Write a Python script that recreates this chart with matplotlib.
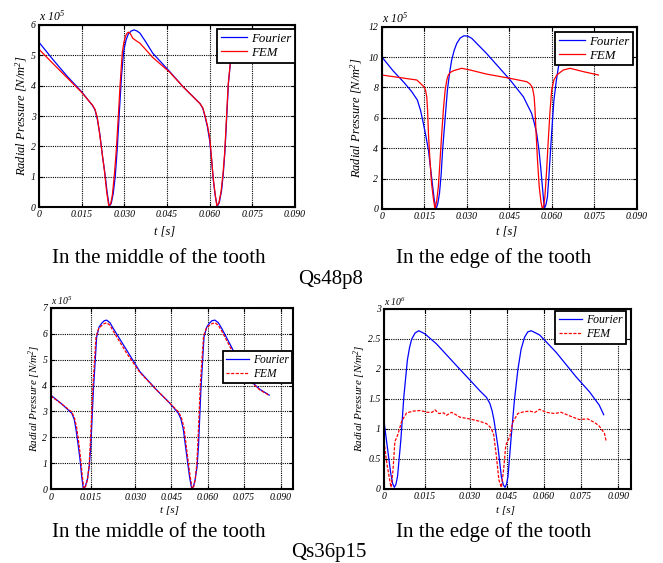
import numpy as np
import matplotlib
matplotlib.use('Agg')
import matplotlib.pyplot as plt

plt.rcParams.update({
    'font.family': 'Liberation Serif',
    'mathtext.fontset': 'custom',
    'mathtext.rm': 'Liberation Serif:italic',
    'mathtext.it': 'Liberation Serif:italic',
    'mathtext.default': 'it',
})

# ---- Qs48p8, middle of the tooth (x 10^5 N/m^2) ----
t_mid48_four = [0, 0.005, 0.010, 0.015, 0.0175, 0.0188, 0.0197, 0.0205, 0.0214, 0.0223, 0.0232,
                0.0240, 0.0247, 0.0254, 0.0261, 0.0268, 0.0275, 0.0283, 0.029, 0.0295, 0.0299,
                0.0306, 0.0314, 0.0324, 0.0334, 0.0345, 0.0355, 0.0375, 0.040, 0.046, 0.0507,
                0.0566, 0.0576, 0.0584, 0.0592, 0.060, 0.0607, 0.0613, 0.0620, 0.0627, 0.0634,
                0.0642, 0.0648, 0.0654, 0.0660, 0.0666, 0.0674, 0.069, 0.071]
p_mid48_four = [5.43, 4.85, 4.3, 3.8, 3.5, 3.35, 3.2, 2.9, 2.4, 1.7, 1.1,
                0.45, 0.02, 0.12, 0.44, 1.0, 1.9, 3.2, 4.3, 4.85, 5.2,
                5.5, 5.7, 5.8, 5.84, 5.8, 5.73, 5.45, 5.07, 4.46, 3.96,
                3.41, 3.25, 2.97, 2.65, 2.2, 1.55, 0.88, 0.35, 0.02, 0.15,
                0.55, 1.1, 1.87, 2.95, 4.07, 4.85, 5.5, 5.8]
t_mid48_fem = [0, 0.005, 0.010, 0.015, 0.0175, 0.0188, 0.0197, 0.0205, 0.0212, 0.0221, 0.0230,
               0.0238, 0.0245, 0.0252, 0.0258, 0.0265, 0.0272, 0.0279, 0.0285, 0.0293, 0.0299,
               0.0305, 0.0310, 0.0314, 0.0318, 0.0322, 0.033, 0.0342, 0.0355, 0.040, 0.046,
               0.0507, 0.0566, 0.0576, 0.0584, 0.0592, 0.0600, 0.0606, 0.0612, 0.0619, 0.0625,
               0.0632, 0.0640, 0.0647, 0.0653, 0.0659, 0.0665, 0.0674, 0.069]
p_mid48_fem = [5.2, 4.72, 4.25, 3.78, 3.5, 3.36, 3.22, 2.95, 2.5, 1.85, 1.2,
               0.5, 0.05, 0.1, 0.4, 1.05, 1.9, 3.0, 4.0, 5.1, 5.45,
               5.65, 5.73, 5.76, 5.75, 5.7, 5.56, 5.48, 5.4, 4.93, 4.44,
               3.96, 3.41, 3.27, 3.0, 2.7, 2.3, 1.7, 1.0, 0.45, 0.05,
               0.12, 0.5, 1.1, 1.8, 2.9, 4.0, 4.9, 5.5]

# ---- Qs48p8, edge of the tooth (x 10^5 N/m^2) ----
t_edge48_four = [0, 0.004, 0.008, 0.0105, 0.0126, 0.0137, 0.0147, 0.0156, 0.0165, 0.0173, 0.018,
                 0.0186, 0.0192, 0.0198, 0.0204, 0.0210, 0.0215, 0.0224, 0.0232, 0.0240, 0.0247,
                 0.0256, 0.0265, 0.0277, 0.029, 0.0304, 0.0318, 0.037, 0.0453, 0.050, 0.0529,
                 0.0538, 0.0547, 0.0555, 0.0561, 0.0568, 0.0574, 0.0580, 0.0585, 0.0590, 0.0596,
                 0.0602, 0.0608, 0.0616, 0.0624, 0.064, 0.066]
p_edge48_four = [10.02, 9.1, 8.3, 7.75, 7.17, 6.5, 5.64, 4.8, 3.88, 2.6, 1.47,
                 0.55, 0.02, 0.35, 1.03, 2.3, 3.88, 6.0, 7.83, 9.0, 9.8,
                 10.45, 10.9, 11.25, 11.4, 11.38, 11.23, 10.24, 8.5, 7.39, 6.3,
                 5.7, 4.98, 3.9, 2.79, 1.3, 0.02, 0.3, 0.8, 2.1, 3.88,
                 5.6, 7.17, 8.4, 9.37, 10.4, 11.0]
t_edge48_fem = [0, 0.006, 0.0124, 0.0149, 0.0155, 0.0159, 0.0162, 0.0165, 0.0170, 0.0176, 0.0183,
                0.0188, 0.0194, 0.020, 0.0206, 0.0212, 0.0218, 0.0224, 0.0230, 0.0235, 0.0243,
                0.0253, 0.0282, 0.0312, 0.037, 0.0453, 0.0512, 0.0524, 0.0532, 0.0538, 0.0541,
                0.0545, 0.0550, 0.0556, 0.0562, 0.0567, 0.0572, 0.0576, 0.0582, 0.0588, 0.0594,
                0.060, 0.0608, 0.0618, 0.0641, 0.0665, 0.0712, 0.0765]
p_edge48_fem = [8.82, 8.66, 8.49, 8.05, 7.8, 7.39, 6.5, 4.98, 3.3, 1.69, 0.6,
                0.02, 0.5, 1.47, 3.2, 4.98, 6.6, 7.83, 8.5, 8.82, 9.0,
                9.1, 9.26, 9.15, 8.88, 8.6, 8.38, 8.22, 8.0, 7.39, 6.6,
                4.98, 3.2, 1.47, 0.5, 0.02, 0.2, 0.8, 2.5, 4.54, 6.4,
                7.83, 8.5, 8.82, 9.15, 9.26, 9.04, 8.82]

# ---- Qs36p15, middle of the tooth (x 10^5 N/m^2) ----
t_mid36_four = [0, 0.004, 0.0079, 0.0088, 0.0095, 0.0103, 0.0110, 0.0116, 0.0122, 0.0129, 0.0137,
                0.0144, 0.0150, 0.0159, 0.0170, 0.0178, 0.0187, 0.0196, 0.0204, 0.0215, 0.0226,
                0.0271, 0.0320, 0.0389, 0.0445, 0.0479, 0.0490, 0.0500, 0.0508, 0.0516, 0.0525,
                0.0534, 0.0541, 0.0548, 0.0556, 0.0562, 0.0572, 0.0585, 0.0596, 0.0607, 0.0618,
                0.0630, 0.0644, 0.0658, 0.0700, 0.0746, 0.0780, 0.0815, 0.0853]
p_mid36_four = [3.63, 3.3, 2.93, 2.7, 2.29, 1.7, 1.13, 0.5, 0.02, 0.1, 0.36,
                0.85, 1.64, 3.83, 5.88, 6.25, 6.4, 6.5, 6.52, 6.42, 6.2,
                5.37, 4.53, 3.83, 3.31, 2.93, 2.7, 2.29, 1.7, 1.13, 0.5,
                0.02, 0.1, 0.36, 0.85, 1.64, 3.83, 5.88, 6.25, 6.4, 6.5,
                6.52, 6.42, 6.2, 5.45, 4.55, 4.15, 3.85, 3.63]
t_mid36_fem = [0, 0.004, 0.0079, 0.0089, 0.0097, 0.0105, 0.0112, 0.0118, 0.0124, 0.0131, 0.0138,
               0.0144, 0.0149, 0.0158, 0.0168, 0.0177, 0.0186, 0.0195, 0.0204, 0.0215, 0.0226,
               0.0271, 0.0320, 0.0389, 0.0445, 0.0480, 0.0492, 0.0502, 0.0510, 0.0518, 0.0527,
               0.0536, 0.0543, 0.0549, 0.0555, 0.0560, 0.0570, 0.0583, 0.0594, 0.0605, 0.0617,
               0.0630, 0.0644, 0.0658, 0.0700, 0.0746, 0.0780, 0.0815, 0.0853]
p_mid36_fem = [3.6, 3.3, 2.98, 2.75, 2.4, 1.8, 1.2, 0.55, 0.02, 0.12, 0.4,
               0.95, 1.9, 4.1, 5.9, 6.2, 6.3, 6.38, 6.42, 6.32, 6.1,
               5.25, 4.5, 3.83, 3.31, 2.98, 2.75, 2.4, 1.8, 1.2, 0.55,
               0.02, 0.12, 0.4, 0.95, 1.9, 4.1, 5.9, 6.2, 6.3, 6.38,
               6.42, 6.32, 6.1, 5.35, 4.5, 4.12, 3.83, 3.62]

# ---- Qs36p15, edge of the tooth (x 10^6 N/m^2) ----
t_edge36_four = [0, 0.0012, 0.00245, 0.0032, 0.0038, 0.0044, 0.0050, 0.0062, 0.0073, 0.0086, 0.0094,
                 0.0102, 0.0114, 0.0128, 0.0150, 0.0189, 0.0255, 0.0313, 0.034, 0.0367, 0.0381,
                 0.0390, 0.0398, 0.0414, 0.0428, 0.0436, 0.0443, 0.0449, 0.0455, 0.0468, 0.0481,
                 0.0495, 0.0508, 0.0522, 0.0535, 0.0549, 0.0583, 0.0650, 0.0731, 0.0785, 0.0824,
                 0.0842]
p_edge36_four = [1.12, 0.7, 0.26, 0.08, 0.02, 0.07, 0.21, 0.81, 1.53, 2.14, 2.35,
                 2.49, 2.59, 2.63, 2.58, 2.41, 2.05, 1.75, 1.63, 1.52, 1.42,
                 1.3, 1.14, 0.7, 0.2, 0.06, 0.02, 0.07, 0.2, 0.86, 1.47,
                 1.98, 2.32, 2.52, 2.61, 2.63, 2.56, 2.27, 1.86, 1.61, 1.39,
                 1.23]
t_edge36_fem = [0, 0.0011, 0.00257, 0.0033, 0.0040, 0.0051, 0.0065, 0.0083, 0.0107, 0.0132, 0.0160,
                0.0174, 0.0184, 0.0197, 0.0213, 0.0222, 0.0239, 0.0250, 0.0266, 0.0299, 0.0340,
                0.0368, 0.0381, 0.0390, 0.0397, 0.0408, 0.0418, 0.0428, 0.0437, 0.0446, 0.0462,
                0.0475, 0.0495, 0.0520, 0.0543, 0.0565, 0.0583, 0.0610, 0.0643, 0.0670, 0.0711,
                0.0744, 0.0778, 0.0805, 0.0822, 0.0831, 0.0845, 0.0851]
p_edge36_fem = [0.78, 0.4, 0.02, 0.3, 0.78, 0.9, 1.12, 1.26, 1.29, 1.3, 1.27,
                1.27, 1.31, 1.25, 1.26, 1.22, 1.27, 1.24, 1.19, 1.16, 1.12,
                1.08, 1.03, 0.97, 0.89, 0.53, 0.14, 0.02, 0.31, 0.72, 0.86,
                1.11, 1.25, 1.28, 1.29, 1.27, 1.32, 1.27, 1.25, 1.27, 1.2,
                1.15, 1.16, 1.1, 1.05, 1.0, 0.92, 0.8]

x_ticks = [0, 0.015, 0.030, 0.045, 0.060, 0.075, 0.090]
x_labels = ['0', '0.015', '0.030', '0.045', '0.060', '0.075', '0.090']

# the lower plots have unevenly spaced time gridlines in the original
warp_t = [-0.015, 0, 0.015, 0.03, 0.045, 0.06, 0.075, 0.09, 0.0952, 0.11]
warp_f = [-0.165, 0, 0.165, 0.348, 0.497, 0.647, 0.797, 0.948, 1.0, 1.148]


def fwd(t):
    return np.interp(t, warp_t, warp_f)


def inv(f):
    return np.interp(f, warp_f, warp_t)


def setup(ax, ymax, yticks, ylabels, mult, fs_tick, fs_lab, fs_off, ylab_x, xlab_y, warped=False):
    if warped:
        ax.set_xscale('function', functions=(fwd, inv))
        ax.set_xlim(0, 0.0952)
    else:
        ax.set_xlim(0, 0.090)
    ax.set_ylim(0, ymax)
    ax.set_xticks(x_ticks, x_labels)
    ax.set_yticks(yticks, ylabels)
    ax.minorticks_off()
    for lab in ax.get_xticklabels() + ax.get_yticklabels():
        lab.set_fontstyle('italic')
        lab.set_fontsize(fs_tick)
    ax.tick_params(direction='in', length=3, width=0.8, top=True, right=True, pad=2.5)
    ax.grid(True, color='black', linestyle=(0, (1, 1)), linewidth=0.8)
    for s in ax.spines.values():
        s.set_linewidth(1.5)
    ax.set_ylabel(r'Radial Pressure [N/m$^{2}$]', fontsize=fs_lab, fontstyle='italic', va='center')
    ax.yaxis.set_label_coords(ylab_x, 0.5)
    ax.set_xlabel('t [s]', fontsize=fs_lab, fontstyle='italic', va='center')
    ax.xaxis.set_label_coords(0.49, xlab_y)
    ax.text(0.0, 1.005, r'x 10$^{%d}$' % mult, transform=ax.transAxes, fontsize=fs_off,
            fontstyle='italic', ha='left', va='bottom')


def add_legend(ax, anchor, fs):
    leg = ax.legend(loc='upper right', bbox_to_anchor=anchor, fontsize=fs, fancybox=False,
                    framealpha=1, edgecolor='black', borderpad=0.3, handlelength=2.0,
                    handletextpad=0.3, labelspacing=0.15, borderaxespad=0)
    leg.get_frame().set_linewidth(1.3)
    for txt in leg.get_texts():
        txt.set_fontstyle('italic')


fig = plt.figure(figsize=(6.63, 5.63), dpi=100)

blue = '#0000ff'
red = '#ff0000'
dash = (0, (2.5, 1.2))

ax1 = fig.add_axes([0.0588, 0.6323, 0.3861, 0.3233])
ax1.plot(t_mid48_four, p_mid48_four, color=blue, lw=0.9, label='Fourier')
ax1.plot(t_mid48_fem, p_mid48_fem, color=red, lw=0.9, label='FEM')
setup(ax1, 6, range(7), [str(v) for v in range(7)], 5, 7, 9, 8.5, -0.07, -0.137)
add_legend(ax1, (1.0, 0.978), 9.3)

ax2 = fig.add_axes([0.5757, 0.6288, 0.3846, 0.3238])
ax2.plot(t_edge48_four, p_edge48_four, color=blue, lw=0.9, label='Fourier')
ax2.plot(t_edge48_fem, p_edge48_fem, color=red, lw=0.9, label='FEM')
setup(ax2, 12, range(0, 13, 2), [str(v) for v in range(0, 13, 2)], 5, 7, 9, 8.5, -0.10, -0.126)
add_legend(ax2, (0.985, 0.973), 9.3)

ax3 = fig.add_axes([0.0765, 0.1309, 0.3659, 0.3226])
ax3.plot(t_mid36_four, p_mid36_four, color=blue, lw=0.9, label='Fourier')
ax3.plot(t_mid36_fem, p_mid36_fem, color=red, lw=0.9, ls=dash, label='FEM')
setup(ax3, 7, range(8), [str(v) for v in range(8)], 5, 7, 8, 7, -0.065, -0.114, warped=True)
add_legend(ax3, (0.995, 0.763), 8.3)

ax4 = fig.add_axes([0.5792, 0.1323, 0.3725, 0.3197])
ax4.plot(t_edge36_four, p_edge36_four, color=blue, lw=0.9, label='Fourier')
ax4.plot(t_edge36_fem, p_edge36_fem, color=red, lw=0.9, ls=dash, label='FEM')
setup(ax4, 3, [0, 0.5, 1, 1.5, 2, 2.5, 3], ['0', '0.5', '1', '1.5', '2', '2.5', '3'],
      6, 7, 8, 7, -0.097, -0.12, warped=True)
add_legend(ax4, (0.98, 0.987), 8.5)

cap = dict(fontsize=15, fontstyle='normal', ha='center', va='baseline')
fig.text(158.5 / 663, 1 - 263 / 563, 'In the middle of the tooth', **cap)
fig.text(494 / 663, 1 - 263 / 563, 'In the edge of the tooth', **cap)
fig.text(331 / 663, 1 - 284 / 563, 'Qs48p8', **cap)
fig.text(158.5 / 663, 1 - 537 / 563, 'In the middle of the tooth', **cap)
fig.text(494 / 663, 1 - 537 / 563, 'In the edge of the tooth', **cap)
fig.text(329 / 663, 1 - 557 / 563, 'Qs36p15', **cap)

fig.savefig('out.png', dpi=100)
